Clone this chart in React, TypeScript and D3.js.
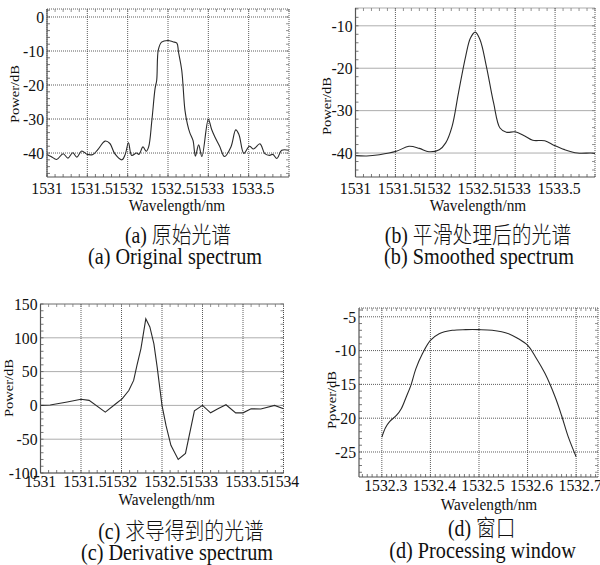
import React from 'react';
import * as d3 from 'd3';

// ---------- data ----------
const aWave = [1531.0, 1531.05, 1531.12, 1531.2, 1531.26, 1531.32, 1531.37, 1531.43, 1531.5, 1531.57, 1531.63, 1531.72, 1531.78, 1531.84, 1531.93, 1531.97, 1532.01, 1532.05, 1532.11, 1532.14, 1532.19, 1532.23, 1532.26, 1532.3, 1532.34, 1532.36, 1532.38, 1532.42, 1532.5, 1532.56, 1532.61, 1532.63, 1532.67, 1532.71, 1532.74, 1532.77, 1532.81, 1532.84, 1532.88, 1532.92, 1533.0, 1533.04, 1533.08, 1533.14, 1533.2, 1533.28, 1533.34, 1533.38, 1533.44, 1533.51, 1533.56, 1533.64, 1533.7, 1533.76, 1533.8, 1533.85, 1533.91, 1534.0];
const aPower = [-40.4, -41.0, -41.9, -40.2, -41.5, -39.9, -41.2, -39.4, -40.4, -40.4, -39.0, -36.5, -37.2, -40.2, -42.0, -40.4, -37.0, -40.7, -40.0, -40.4, -38.2, -39.5, -38.2, -30.4, -21.0, -18.6, -9.7, -7.4, -6.9, -7.3, -7.7, -10.3, -15.6, -27.4, -31.4, -34.0, -36.3, -40.9, -37.6, -41.0, -30.1, -33.0, -35.2, -38.0, -41.0, -38.2, -33.2, -34.6, -40.1, -38.0, -38.8, -37.3, -40.2, -40.7, -40.4, -41.6, -39.2, -39.2];

const bWave = [1531.0, 1531.14, 1531.3, 1531.51, 1531.67, 1531.8, 1531.92, 1532.05, 1532.13, 1532.21, 1532.29, 1532.38, 1532.44, 1532.5, 1532.56, 1532.64, 1532.73, 1532.81, 1532.89, 1533.0, 1533.12, 1533.22, 1533.37, 1533.49, 1533.62, 1533.78, 1533.95, 1534.0];
const bPower = [-40.6, -40.7, -40.4, -39.6, -38.4, -38.9, -39.7, -39.2, -37.6, -33.7, -25.8, -17.2, -12.9, -11.5, -13.3, -19.6, -28.2, -34.1, -35.1, -35.0, -36.0, -37.0, -37.1, -38.2, -39.2, -40.0, -40.0, -40.1];

const cWave = [1531.0, 1531.12, 1531.33, 1531.5, 1531.6, 1531.8, 1531.93, 1532.01, 1532.09, 1532.15, 1532.19, 1532.24, 1532.3, 1532.35, 1532.4, 1532.44, 1532.5, 1532.55, 1532.61, 1532.7, 1532.79, 1532.9, 1533.0, 1533.1, 1533.19, 1533.29, 1533.41, 1533.5, 1533.6, 1533.72, 1533.89, 1534.0];
const cPower = [0, 0.5, 5, 9, 7.4, -10, 2.5, 10, 22, 37, 59, 84, 128, 116, 91, 57, 0, -30, -59, -80, -71, -8, 0, -11, -5, 1, -11, -11, -5, -5.4, 0, -5];

const dWave = [1532.3, 1532.3075, 1532.316, 1532.33, 1532.34, 1532.35, 1532.36, 1532.37, 1532.384, 1532.4, 1532.418, 1532.445, 1532.473, 1532.5, 1532.527, 1532.561, 1532.58, 1532.6, 1532.616, 1532.636, 1532.657, 1532.67, 1532.684, 1532.7];
const dPower = [-22.8, -21.4, -20.5, -19.6, -18.6, -16.9, -15.1, -12.7, -10.4, -8.5, -7.5, -7.0, -6.9, -6.9, -7.0, -7.5, -8.2, -9.2, -10.9, -13.4, -16.9, -19.6, -22.8, -25.7];

const abXTicks = [1531, 1531.5, 1532, 1532.5, 1533, 1533.5];
const cXTicks = [1531, 1531.5, 1532, 1532.5, 1533, 1533.5, 1534];
const dXTicks = [1532.3, 1532.4, 1532.5, 1532.6, 1532.7];
const aYTicks = [0, -10, -20, -30, -40];
const bYTicks = [-10, -20, -30, -40];
const cYTicks = [150, 100, 50, 0, -50, -100];
const dYTicks = [-5, -10, -15, -20, -25];

const xTitle = 'Wavelength/nm';
const yTitle = 'Power/dB';
const captionsZh = ['(a) 原始光谱', '(b) 平滑处理后的光谱', '(c) 求导得到的光谱', '(d) 窗口'];
const captionsEn = ['(a) Original spectrum', '(b) Smoothed spectrum', '(c) Derivative spectrum', '(d) Processing window'];

// ---------- helpers ----------
const SERIF = "'Liberation Serif', 'Times New Roman', serif";
const ZH = "'Liberation Serif', 'Noto Sans CJK SC', sans-serif";
const SX = 0.88;

function T({ x, y, size, anchor = 'middle', sx = SX, family = SERIF, weight = 400, children }: any) {
  return (
    <text transform={`translate(${x},${y}) scale(${sx},1)`} fontSize={size} textAnchor={anchor}
      fontFamily={family} fontWeight={weight} fill="#111">{children}</text>
  );
}

function minorValues(d0: number, d1: number, step: number) {
  const lo = Math.min(d0, d1), hi = Math.max(d0, d1);
  const out: number[] = [];
  for (let i = Math.ceil(lo / step - 1e-9); i <= Math.floor(hi / step + 1e-9); i++) out.push(+(i * step).toFixed(6));
  return out;
}

function Panel(p: any) {
  const { wave, power, l, r, t, b, xDomain, yDomain, xTicks, yTicks, xMinor, yMinor, curve,
    tickBase, titleX, titleBase, yTitleX, yTitleY, zh, zhX, zhBase, en, enX, enBase } = p;
  const x = d3.scaleLinear().domain(xDomain).range([l, r]);
  const y = d3.scaleLinear().domain(yDomain).range([b, t]);
  const line = d3.line<number>().x((_, i) => x(wave[i])).y((v) => y(v)).curve(curve);
  const grid = '#4a4a4a';
  const mt = 3;
  return (
    <g>
      {xTicks.map((v: number) => (
        <line key={'gx' + v} x1={x(v)} x2={x(v)} y1={t} y2={b} stroke={grid} strokeWidth={0.9} strokeDasharray="1,1" />
      ))}
      {yTicks.map((v: number) => (
        <line key={'gy' + v} x1={l} x2={r} y1={y(v)} y2={y(v)} stroke={grid} strokeWidth={0.9} strokeDasharray="1,1" />
      ))}
      <line x1={l} x2={r} y1={t} y2={t} stroke={grid} strokeWidth={0.9} strokeDasharray="1,1" />
      <line x1={r} x2={r} y1={t} y2={b} stroke={grid} strokeWidth={0.9} strokeDasharray="1,1" />
      {minorValues(xDomain[0], xDomain[1], xMinor).map((v) => (
        <g key={'mx' + v}>
          <line x1={x(v)} x2={x(v)} y1={b} y2={b - mt} stroke="#555" strokeWidth={0.8} />
          <line x1={x(v)} x2={x(v)} y1={t} y2={t + mt} stroke="#777" strokeWidth={0.8} />
        </g>
      ))}
      {minorValues(yDomain[0], yDomain[1], yMinor).map((v) => (
        <g key={'my' + v}>
          <line x1={l} x2={l + mt} y1={y(v)} y2={y(v)} stroke="#555" strokeWidth={0.8} />
          <line x1={r} x2={r - mt} y1={y(v)} y2={y(v)} stroke="#777" strokeWidth={0.8} />
        </g>
      ))}
      <path d={line(power) || ''} fill="none" stroke="#2a2a2a" strokeWidth={1.1} />
      <line x1={l} x2={l} y1={t} y2={b} stroke="#555" strokeWidth={1.2} />
      <line x1={l} x2={r} y1={b} y2={b} stroke="#555" strokeWidth={1.2} />
      {xTicks.map((v: number) => (
        <T key={'lx' + v} x={x(v) + (Number.isInteger(v) ? 0 : 4)} y={tickBase} size={17.5} sx={0.9}>{String(v)}</T>
      ))}
      {yTicks.map((v: number) => (
        <T key={'ly' + v} x={l - 3} y={y(v) + 5.8} size={17.5} sx={0.9} anchor="end">{String(v)}</T>
      ))}
      <text transform={`translate(${yTitleX},${yTitleY}) rotate(-90) scale(1,0.9)`} fontSize={14.5}
        textAnchor="middle" fontFamily={SERIF} fill="#111" dominantBaseline="central">{yTitle}</text>
      <T x={titleX} y={titleBase} size={17} sx={0.9}>{xTitle}</T>
      <T x={zhX} y={zhBase} size={22.5} family={ZH} weight={300}>{zh}</T>
      <T x={enX} y={enBase} size={23}>{en}</T>
    </g>
  );
}

export default function App() {
  return (
    <svg width={600} height={565} style={{ position: 'absolute', left: 0, top: 0, background: '#fff' }}>
      <rect width={600} height={565} fill="#fff" />
      <Panel wave={aWave} power={aPower} l={47} r={289} t={9} b={177}
        xDomain={[1531, 1534]} yDomain={[-47.05, 2.35]} xTicks={abXTicks} yTicks={aYTicks}
        xMinor={0.1} yMinor={2} curve={d3.curveCatmullRom.alpha(0.5)}
        tickBase={193.7} titleX={177} titleBase={210.5} yTitleX={15} yTitleY={94}
        zh={captionsZh[0]} zhX={178} zhBase={242.5} en={captionsEn[0]} enX={175} enBase={263.5} />
      <Panel wave={bWave} power={bPower} l={355.5} r={595} t={8} b={177}
        xDomain={[1531, 1534]} yDomain={[-45.65, -5.8]} xTicks={abXTicks} yTicks={bYTicks}
        xMinor={0.1} yMinor={2} curve={d3.curveCatmullRom.alpha(0.5)}
        tickBase={193.7} titleX={478} titleBase={210.5} yTitleX={327} yTitleY={106}
        zh={captionsZh[1]} zhX={478} zhBase={242.5} en={captionsEn[1]} enX={479} enBase={263.5} />
      <Panel wave={cWave} power={cPower} l={40.5} r={283.5} t={304} b={473}
        xDomain={[1531, 1534]} yDomain={[-100, 150]} xTicks={cXTicks} yTicks={cYTicks}
        xMinor={0.1} yMinor={10} curve={d3.curveLinear}
        tickBase={487.4} titleX={166.7} titleBase={505} yTitleX={9} yTitleY={388}
        zh={captionsZh[2]} zhX={181} zhBase={538.5} en={captionsEn[2]} enX={177} enBase={559.5} />
      <Panel wave={dWave} power={dPower} l={359} r={598} t={308} b={477}
        xDomain={[1532.253, 1532.745]} yDomain={[-28.7, -3.7]} xTicks={dXTicks} yTicks={dYTicks}
        xMinor={0.01} yMinor={1} curve={d3.curveCatmullRom.alpha(0.5)}
        tickBase={490.7} titleX={489} titleBase={510} yTitleX={332} yTitleY={400}
        zh={captionsZh[3]} zhX={481.7} zhBase={535.6} en={captionsEn[3]} enX={482.5} enBase={557.6} />
    </svg>
  );
}
